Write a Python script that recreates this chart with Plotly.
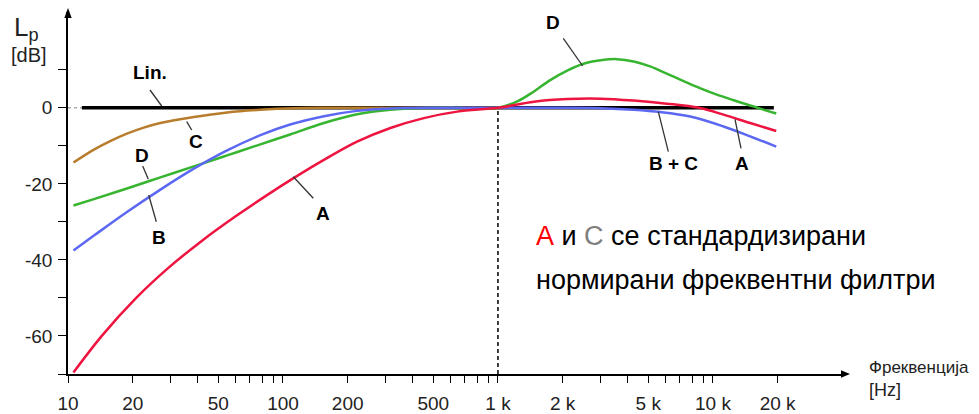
import plotly.graph_objects as go
import math

# ---------------- data ----------------
lin_f = [11.6, 19200]
lin_db = [0, 0]

a_f = [10.6, 14.4, 20.5, 29.3, 41.9, 60, 85.7, 112, 155, 221, 316, 452, 646, 1000,
       1470, 2100, 3000, 4280, 6100, 8600, 11200, 14900, 19700]
a_db = [-69.6, -59.9, -50.3, -42.1, -35.0, -28.6, -22.7, -18.5, -13.7, -8.9, -5.3, -2.7, -1.0, 0.0,
        1.6, 2.3, 2.4, 1.9, 1.1, 0.0, -1.8, -4.0, -6.1]

b_f = [10.6, 13.2, 18.8, 26.9, 38.5, 55, 78.5, 108, 155, 221, 316, 500, 1000, 2000, 3000,
       4280, 5700, 7850, 11200, 14900, 19700]
b_db = [-37.5, -33.6, -27.4, -21.5, -16.0, -11.2, -7.2, -4.4, -2.2, -0.8, -0.2, 0.0, 0.0, 0.0, -0.1,
        -0.5, -1.1, -2.3, -4.9, -7.5, -10.2]

c_f = [10.6, 13.2, 15.8, 18.8, 22.5, 26.9, 38.5, 55, 78.5, 112, 160, 400, 1000]
c_db = [-14.4, -11.0, -8.7, -6.8, -5.2, -4.0, -2.4, -1.2, -0.5, -0.1, 0.0, 0.0, 0.0]

d_f = [10.6, 13.2, 18.8, 26.9, 38.5, 55, 78.5, 108, 155, 221, 316, 450, 600, 1000, 1230, 1470, 1750,
       2100, 2500, 3000, 3580, 4280, 5100, 6100, 7300, 8750, 10500, 12500, 14900, 19700]
d_db = [-25.7, -24.0, -21.2, -18.3, -15.4, -12.5, -9.6, -7.0, -4.0, -1.7, -0.5, -0.05, 0.0, 0.0, 1.7, 4.3, 7.3,
        9.8, 11.6, 12.5, 12.8, 12.2, 10.9, 9.0, 7.0, 5.1, 3.4, 2.0, 0.6, -1.5]

x_tickvals = [10, 20, 30, 40, 50, 60, 70, 80, 90, 100, 200, 300, 400, 500, 600, 700, 800, 900,
              1000, 2000, 3000, 4000, 5000, 6000, 7000, 8000, 9000, 10000, 20000]
x_labels = {10: "10", 20: "20", 50: "50", 100: "100", 200: "200", 500: "500",
            1000: "1 k", 2000: "2 k", 5000: "5 k", 10000: "10 k", 20000: "20 k"}
y_tickvals = [-70, -60, -50, -40, -30, -20, -10, 0, 10]
y_labels = {0: "0", -20: "-20", -40: "-40", -60: "-60"}

# ---------------- layout geometry ----------------
W, H = 979, 414
L, R, T, B = 68, 136, 12, 40
XR = [1, 4.605]
YR = [-70, 25.2]
PW = W - L - R
PH = H - T - B


def px(x):
    return (x - L) / PW


def py(y):
    return (H - B - y) / PH


FONT = "Liberation Sans, Arial, sans-serif"
RED = "#EE1440"
BLUE = "#5C68F2"
GREEN = "#38B530"
BROWN = "#B87D2C"

fig = go.Figure()

# gray dashed stub at 0 dB near the axis
fig.add_shape(type="line", xref="paper", yref="y", x0=px(68), x1=px(82), y0=0, y1=0,
              line=dict(color="#AAAAAA", width=1.5, dash="3px,3px"))

fig.add_trace(go.Scatter(x=lin_f, y=lin_db, mode="lines",
                         line=dict(color="black", width=3.5)))
fig.add_trace(go.Scatter(x=c_f, y=c_db, mode="lines", line_shape="spline",
                         line=dict(color=BROWN, width=2.5)))
fig.add_trace(go.Scatter(x=d_f, y=d_db, mode="lines", line_shape="spline",
                         line=dict(color=GREEN, width=2.5)))
fig.add_trace(go.Scatter(x=b_f, y=b_db, mode="lines", line_shape="spline",
                         line=dict(color=BLUE, width=2.5)))
fig.add_trace(go.Scatter(x=a_f, y=a_db, mode="lines", line_shape="spline",
                         line=dict(color=RED, width=2.5)))

# dashed vertical line at 1 kHz
x1k = (math.log10(1000) - XR[0]) / (XR[1] - XR[0])
fig.add_shape(type="line", xref="paper", yref="y", x0=x1k, x1=x1k, y0=-70, y1=0,
              line=dict(color="black", width=1.5, dash="4px,3px"), layer="below")

# axis arrow heads
fig.add_shape(type="path", xref="paper", yref="paper", fillcolor="black", line=dict(width=0),
              path=f"M {px(68)} {py(8)} L {px(64.3)} {py(18)} L {px(71.7)} {py(18)} Z")
fig.add_shape(type="path", xref="paper", yref="paper", fillcolor="black", line=dict(width=0),
              path=f"M {px(850)} {py(374)} L {px(841)} {py(370.3)} L {px(841)} {py(377.7)} Z")

# curve labels with leader lines
labels = [
    ("Lin.", 150, 73, (150, 90, 161.7, 106)),
    ("C", 196, 141, (186.7, 121.7, 191.7, 130)),
    ("D", 141.7, 155, (142.7, 166, 148.3, 179.3)),
    ("B", 158.5, 237, (148.7, 195, 156.3, 221.7)),
    ("A", 323.3, 213.5, (293.3, 176.7, 313.3, 198.3)),
    ("D", 553, 22, (563.3, 38.3, 582.7, 66)),
    ("B + C", 673, 163.5, (658.3, 111.7, 668.3, 151.7)),
    ("A", 741.7, 163.5, (735, 119.3, 741, 148.3)),
]
for txt, cx, cy, (x0, y0, x1, y1) in labels:
    fig.add_annotation(x=px(cx), y=py(cy), xref="paper", yref="paper", text=f"<b>{txt}</b>",
                       showarrow=False, xanchor="center", yanchor="middle",
                       font=dict(family=FONT, size=19, color="black"))
    fig.add_shape(type="line", xref="paper", yref="paper", x0=px(x0), y0=py(y0), x1=px(x1), y1=py(y1),
                  line=dict(color="#333333", width=1.3))

# axis titles
fig.add_annotation(x=px(12), y=py(28), xref="paper", yref="paper", text="L<sub>p</sub>",
                   showarrow=False, xanchor="left", yanchor="middle",
                   font=dict(family=FONT, size=26, color="#222"))
fig.add_annotation(x=px(9), y=py(55), xref="paper", yref="paper", text="[dB]",
                   showarrow=False, xanchor="left", yanchor="middle",
                   font=dict(family=FONT, size=20, color="#222"))
fig.add_annotation(x=px(867), y=py(367), xref="paper", yref="paper", text="Фреквенција",
                   showarrow=False, xanchor="left", yanchor="middle",
                   font=dict(family=FONT, size=17, color="#222"))
fig.add_annotation(x=px(867), y=py(390), xref="paper", yref="paper", text="[Hz]",
                   showarrow=False, xanchor="left", yanchor="middle",
                   font=dict(family=FONT, size=18, color="#222"))

# note text
fig.add_annotation(x=px(534), y=py(236), xref="paper", yref="paper",
                   text="<span style='color:#FF0000'>А</span> и <span style='color:#808080'>С</span> се стандардизирани",
                   showarrow=False, xanchor="left", yanchor="middle",
                   font=dict(family=FONT, size=27, color="black"))
fig.add_annotation(x=px(534), y=py(280), xref="paper", yref="paper",
                   text="нормирани фреквентни филтри",
                   showarrow=False, xanchor="left", yanchor="middle",
                   font=dict(family=FONT, size=27, color="black"))

fig.update_xaxes(type="log", range=XR, showgrid=False, zeroline=False, automargin=False,
                 showline=True, linecolor="black", linewidth=1.5,
                 ticks="outside", ticklen=7, tickwidth=1.3, tickcolor="black",
                 tickvals=x_tickvals, ticktext=[x_labels.get(v, "") for v in x_tickvals],
                 tickfont=dict(family=FONT, size=19, color="#222"), ticklabelstandoff=4)
fig.update_yaxes(range=YR, showgrid=False, zeroline=False, automargin=False,
                 showline=True, linecolor="black", linewidth=1.5,
                 ticks="outside", ticklen=8, tickwidth=1.3, tickcolor="black",
                 tickvals=y_tickvals, ticktext=[y_labels.get(v, "") for v in y_tickvals],
                 tickfont=dict(family=FONT, size=19, color="#222"), ticklabelstandoff=2)

fig.update_layout(width=W, height=H, margin=dict(l=L, r=R, t=T, b=B),
                  plot_bgcolor="white", paper_bgcolor="white", showlegend=False,
                  hovermode=False)

fig.write_html("out.html")
